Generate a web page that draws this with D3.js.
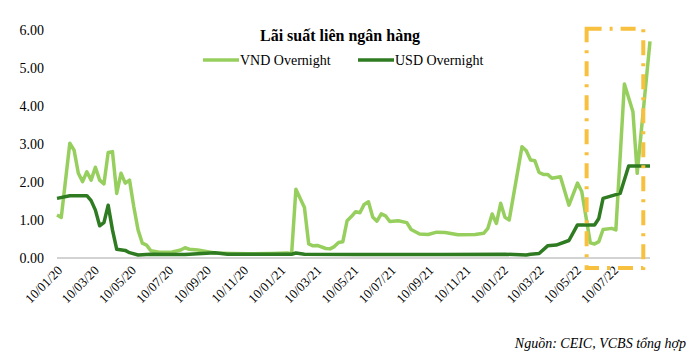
<!DOCTYPE html>
<html>
<head>
<meta charset="utf-8">
<script src="https://cdn.jsdelivr.net/npm/d3@7"></script>
<style>
  body { margin: 0; background: #fff; }
  svg { display: block; font-family: "Liberation Serif", "Times New Roman", serif; }
</style>
</head>
<body>
<div id="chart"></div>
<script>
// Weekly interbank overnight rates (%), vertices
const vndDates = ["2020-01-10","2020-01-17","2020-01-31","2020-02-07","2020-02-14","2020-02-21","2020-02-28","2020-03-06","2020-03-13","2020-03-20","2020-03-27","2020-04-03","2020-04-10","2020-04-17","2020-04-24","2020-05-01","2020-05-08","2020-05-15","2020-05-22","2020-05-29","2020-06-05","2020-06-12","2020-06-26","2020-07-17","2020-07-31","2020-08-07","2020-08-14","2020-08-28","2020-09-18","2020-09-25","2020-10-23","2020-11-20","2020-12-25","2021-01-22","2021-01-29","2021-02-05","2021-02-19","2021-02-26","2021-03-05","2021-03-12","2021-03-26","2021-04-02","2021-04-09","2021-04-16","2021-04-23","2021-04-30","2021-05-07","2021-05-14","2021-05-21","2021-05-28","2021-06-04","2021-06-11","2021-06-18","2021-06-25","2021-07-02","2021-07-09","2021-07-23","2021-08-06","2021-08-13","2021-08-27","2021-09-10","2021-09-24","2021-10-08","2021-10-29","2021-11-26","2021-12-10","2021-12-17","2021-12-24","2021-12-31","2022-01-07","2022-01-14","2022-01-21","2022-02-11","2022-02-18","2022-02-25","2022-03-04","2022-03-11","2022-03-18","2022-03-25","2022-04-01","2022-04-15","2022-04-29","2022-05-13","2022-05-20","2022-06-03","2022-06-10","2022-06-17","2022-06-24","2022-07-08","2022-07-15","2022-07-29","2022-08-12","2022-08-19","2022-09-09"];
const vndValues = [1.13,1.07,3.02,2.84,2.23,2.01,2.27,2.05,2.39,2.05,1.95,2.78,2.80,1.70,2.23,1.97,2.05,1.35,0.74,0.39,0.34,0.19,0.15,0.16,0.21,0.27,0.23,0.21,0.15,0.13,0.12,0.11,0.12,0.13,0.12,1.81,1.33,0.37,0.32,0.33,0.25,0.24,0.30,0.41,0.43,0.98,1.09,1.22,1.19,1.41,1.48,1.08,0.97,1.16,1.11,0.96,0.98,0.93,0.75,0.63,0.62,0.68,0.67,0.61,0.62,0.65,0.78,1.16,0.91,1.44,1.07,1.00,2.93,2.82,2.58,2.56,2.25,2.20,2.20,2.10,2.14,1.39,1.97,1.75,0.40,0.37,0.43,0.75,0.78,0.74,4.58,3.85,2.23,5.70];

const usdDates = ["2020-01-10","2020-01-31","2020-02-28","2020-03-06","2020-03-13","2020-03-20","2020-03-27","2020-04-03","2020-04-10","2020-04-17","2020-05-01","2020-05-08","2020-05-22","2020-06-12","2020-08-07","2020-09-25","2020-10-16","2020-12-04","2021-01-29","2021-02-05","2021-02-19","2021-05-14","2021-10-01","2022-01-14","2022-02-18","2022-02-25","2022-03-11","2022-03-25","2022-04-08","2022-04-29","2022-05-13","2022-06-10","2022-06-17","2022-06-24","2022-07-22","2022-08-05","2022-09-09"];
const usdValues = [1.57,1.64,1.64,1.51,1.26,0.85,0.93,1.39,0.74,0.23,0.20,0.14,0.08,0.10,0.09,0.14,0.10,0.10,0.10,0.13,0.10,0.09,0.09,0.10,0.08,0.10,0.12,0.32,0.34,0.46,0.87,0.87,1.04,1.57,1.70,2.42,2.42];

const seriesNames = ["VND Overnight", "USD Overnight"];
const seriesColors = ["#97cf5e", "#2f7b22"];

const yTicks = [0, 1, 2, 3, 4, 5, 6];
const xTickDates = ["2020-01-10","2020-03-10","2020-05-10","2020-07-10","2020-09-10","2020-11-10","2021-01-10","2021-03-10","2021-05-10","2021-07-10","2021-09-10","2021-11-10","2022-01-10","2022-03-10","2022-05-10","2022-07-10"];

// highlighted period (dashed box)
const highlightDates = ["2022-05-28", "2022-08-29"];
const highlightValues = [-0.26, 6.03];

const title = "Lãi suất liên ngân hàng";
const source = "Nguồn: CEIC, VCBS tổng hợp";

function drawChart() {
  const width = 700, height = 362;
  const parse = d3.timeParse("%Y-%m-%d");
  const fmt = d3.timeFormat("%d/%m/%y");

  const svg = d3.select("#chart").append("svg")
    .attr("width", width)
    .attr("height", height);

  const x = d3.scaleTime()
    .domain([parse("2020-01-10"), parse("2022-09-09")])
    .range([57, 650]);
  const y = d3.scaleLinear().domain([0, 6]).range([258, 30]);

  // y labels (no axis line)
  svg.append("g")
    .selectAll("text")
    .data(yTicks)
    .enter()
    .append("text")
    .attr("x", 44)
    .attr("y", d => y(d))
    .attr("dy", "0.35em")
    .attr("text-anchor", "end")
    .style("font-size", "14px")
    .attr("fill", "#000")
    .text(d => d.toFixed(2));

  // x axis line
  svg.append("line")
    .attr("x1", x.range()[0]).attr("x2", x.range()[1])
    .attr("y1", y(0)).attr("y2", y(0))
    .attr("stroke", "#a6a6a6")
    .attr("stroke-width", 1);

  // x tick labels, rotated
  svg.append("g")
    .selectAll("text")
    .data(xTickDates.map(parse))
    .enter()
    .append("text")
    .attr("transform", d => `translate(${x(d) + 3},${y(0) + 10}) rotate(-45)`)
    .attr("text-anchor", "end")
    .attr("dy", "0.35em")
    .style("font-size", "13px")
    .text(d => fmt(d));

  const line = d3.line()
    .x(d => x(d[0]))
    .y(d => y(d[1]));

  const vnd = vndDates.map((d, i) => [parse(d), vndValues[i]]);
  const usd = usdDates.map((d, i) => [parse(d), usdValues[i]]);

  svg.append("path")
    .datum(vnd)
    .attr("d", line)
    .attr("fill", "none")
    .attr("stroke", seriesColors[0])
    .attr("stroke-width", 3.5)
    .attr("stroke-linejoin", "round");

  svg.append("path")
    .datum(usd)
    .attr("d", line)
    .attr("fill", "none")
    .attr("stroke", seriesColors[1])
    .attr("stroke-width", 3.5)
    .attr("stroke-linejoin", "round");

  // highlight box
  const hx0 = x(parse(highlightDates[0])), hx1 = x(parse(highlightDates[1]));
  const hy0 = y(highlightValues[1]), hy1 = y(highlightValues[0]);
  svg.append("rect")
    .attr("x", hx0).attr("y", hy0)
    .attr("width", hx1 - hx0).attr("height", hy1 - hy0)
    .attr("fill", "none")
    .attr("stroke", "#f8c03f")
    .attr("stroke-width", 4)
    .attr("stroke-dasharray", "15,8,3,8");

  // title
  svg.append("text")
    .attr("x", 340)
    .attr("y", 41)
    .attr("text-anchor", "middle")
    .style("font-size", "16px")
    .style("font-weight", "bold")
    .text(title);

  // legend
  const legendX = [203, 358];
  const legend = svg.append("g");
  const items = legend.selectAll("g")
    .data(seriesNames)
    .enter()
    .append("g")
    .attr("transform", (d, i) => `translate(${legendX[i]}, 60)`);
  items.append("line")
    .attr("x1", 0).attr("x2", 36)
    .attr("stroke", (d, i) => seriesColors[i])
    .attr("stroke-width", 3.5);
  items.append("text")
    .attr("x", 37)
    .attr("dy", "0.35em")
    .style("font-size", "14px")
    .text(d => d);

  // source note
  svg.append("text")
    .attr("x", 686)
    .attr("y", 348)
    .attr("text-anchor", "end")
    .style("font-size", "14px")
    .style("font-style", "italic")
    .text(source);
}

drawChart();
</script>
</body>
</html>
